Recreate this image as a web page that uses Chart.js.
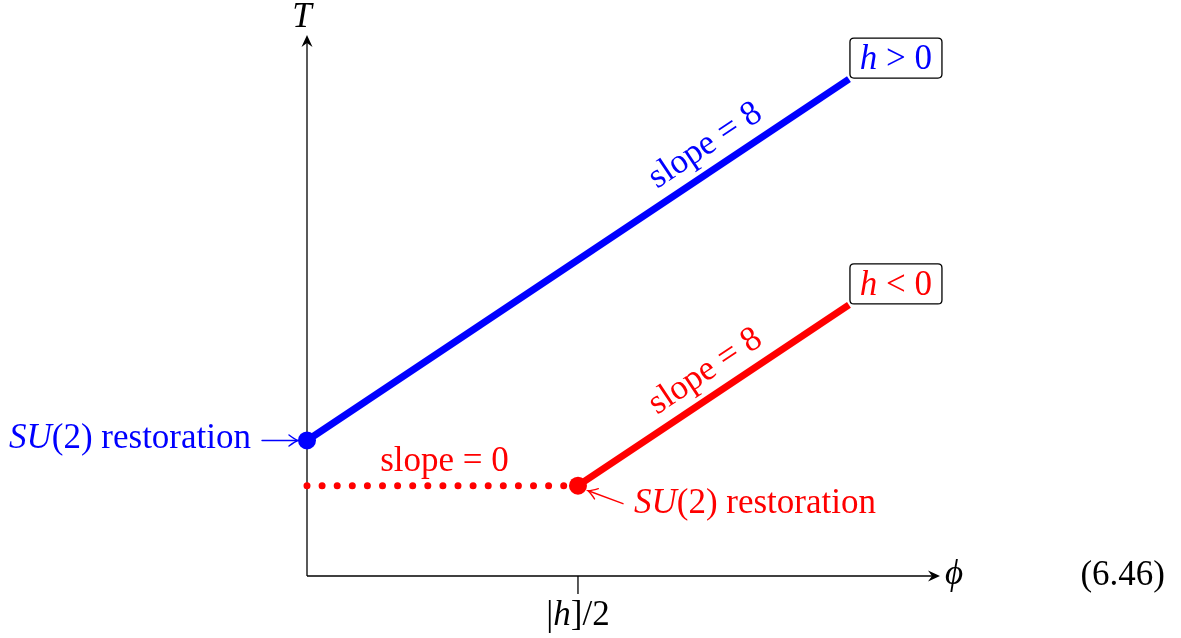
<!DOCTYPE html>
<html>
<head>
<meta charset="utf-8">
<script src="https://cdn.jsdelivr.net/npm/chart.js@4.4.1/dist/chart.umd.min.js"></script>
<style>
html,body{margin:0;padding:0;background:#fff;}
#wrap{width:1181px;height:638px;position:relative;}
</style>
</head>
<body>
<div id="wrap"><canvas id="c"></canvas></div>
<script>
// ---- data ----
const blueX = [0, 2];
const blueT = [0.5, 1.8333];
const redX = [1, 2];
const redT = [0.3333, 1.0];
const flatX = [0, 1];
const flatT = [0.3333, 0.3333];
const xTickValues = [1];
const xTickLabels = ['|h]/2'];
const axisXMax = 2.336;
const axisYMax = 1.996;
const slopeLabelX = 1.52;
const BLUE = '#0000ff', RED = '#ff0000';
const FONT = '"Liberation Serif", "Times New Roman", serif';
const FS = 35;

function pts(xs, ys){ return xs.map((x,i)=>({x:x, y:ys[i]})); }

function runsWidth(ctx, runs, size){
  let w = 0;
  runs.forEach(r=>{ ctx.font = (r.it?'italic ':'') + size + 'px ' + FONT; w += ctx.measureText(r.t).width; });
  return w;
}
function drawRuns(ctx, runs, x, y, align, color, size){
  size = size || FS;
  const w = runsWidth(ctx, runs, size);
  let cx = align==='center' ? x - w/2 : (align==='right' ? x - w : x);
  ctx.fillStyle = color; ctx.textBaseline = 'alphabetic'; ctx.textAlign = 'left';
  runs.forEach(r=>{ ctx.font = (r.it?'italic ':'') + size + 'px ' + FONT; ctx.fillText(r.t, cx, y); cx += ctx.measureText(r.t).width; });
  return w;
}
function stealth(ctx, x, y, ang){
  ctx.save(); ctx.translate(x,y); ctx.rotate(ang);
  ctx.beginPath(); ctx.moveTo(0,0); ctx.lineTo(-12,-5.5); ctx.lineTo(-8,0); ctx.lineTo(-12,5.5); ctx.closePath();
  ctx.fillStyle = '#000'; ctx.fill(); ctx.restore();
}
function toArrow(ctx, x1, y1, x2, y2, color){
  const ang = Math.atan2(y2-y1, x2-x1);
  ctx.save(); ctx.strokeStyle = color; ctx.lineWidth = 1.4; ctx.lineCap='round';
  ctx.beginPath(); ctx.moveTo(x1,y1); ctx.lineTo(x2-1*Math.cos(ang), y2-1*Math.sin(ang)); ctx.stroke();
  ctx.translate(x2,y2); ctx.rotate(ang);
  ctx.beginPath(); ctx.moveTo(-9,-5.5); ctx.quadraticCurveTo(-3,-1,0,0); ctx.quadraticCurveTo(-3,1,-9,5.5); ctx.stroke();
  ctx.restore();
}
function roundRect(ctx, x, y, w, h, r){
  ctx.beginPath(); ctx.moveTo(x+r,y); ctx.lineTo(x+w-r,y); ctx.quadraticCurveTo(x+w,y,x+w,y+r);
  ctx.lineTo(x+w,y+h-r); ctx.quadraticCurveTo(x+w,y+h,x+w-r,y+h); ctx.lineTo(x+r,y+h);
  ctx.quadraticCurveTo(x,y+h,x,y+h-r); ctx.lineTo(x,y+r); ctx.quadraticCurveTo(x,y,x+r,y); ctx.closePath();
}

const axesPlugin = {
  id:'axesPlugin',
  beforeDatasetsDraw(chart){
    const ctx = chart.ctx, xs = chart.scales.x, ys = chart.scales.y;
    const x0 = xs.getPixelForValue(0), y0 = ys.getPixelForValue(0);
    const xe = xs.getPixelForValue(axisXMax), ye = ys.getPixelForValue(axisYMax);
    ctx.save(); ctx.strokeStyle = '#000'; ctx.lineWidth = 1.3;
    ctx.beginPath(); ctx.moveTo(x0, y0); ctx.lineTo(xe-6, y0); ctx.stroke();
    ctx.beginPath(); ctx.moveTo(x0, y0); ctx.lineTo(x0, ye+6); ctx.stroke();
    stealth(ctx, xe, y0, 0); stealth(ctx, x0, ye, -Math.PI/2);
    xTickValues.forEach((v,i)=>{
      const px = xs.getPixelForValue(v);
      ctx.beginPath(); ctx.moveTo(px, y0); ctx.lineTo(px, y0+18); ctx.stroke();
      const lab = xTickLabels[i];
      drawRuns(ctx, [{t:lab.slice(0,1)},{t:lab.slice(1,2),it:true},{t:lab.slice(2)}], px, y0+49, 'center', '#000');
    });
    drawRuns(ctx, [{t:'T', it:true}], x0-5, ye-8, 'center', '#000');
    drawRuns(ctx, [{t:'\u03D5', it:true}], xe+5, y0+8, 'left', '#000');
    drawRuns(ctx, [{t:'(6.46)'}], 1165, y0+9, 'right', '#000');
    ctx.restore();
  },
  afterDatasetsDraw(chart){
    const ctx = chart.ctx, xs = chart.scales.x, ys = chart.scales.y;
    // boxes at line ends
    [[blueX, blueT, BLUE, '>'], [redX, redT, RED, '<']].forEach(([X,Y,col,op])=>{
      const ex = xs.getPixelForValue(X[1]), ey = ys.getPixelForValue(Y[1]);
      const bx = ex+1, by = ey-41, bw = 92, bh = 40;
      ctx.save(); ctx.fillStyle='#fff'; roundRect(ctx,bx,by,bw,bh,4); ctx.fill();
      ctx.strokeStyle='#000'; ctx.lineWidth=1.3; ctx.stroke(); ctx.restore();
      drawRuns(ctx, [{t:'h',it:true},{t:' '+op+' 0'}], bx+bw/2, by+31, 'center', col);
    });
    // slope labels along lines
    [[blueX, blueT, BLUE, 'slope = 8'], [redX, redT, RED, 'slope = 8']].forEach(([X,Y,col,txt])=>{
      const p1x = xs.getPixelForValue(X[0]), p1y = ys.getPixelForValue(Y[0]);
      const p2x = xs.getPixelForValue(X[1]), p2y = ys.getPixelForValue(Y[1]);
      const ang = Math.atan2(p2y-p1y, p2x-p1x);
      const cx = xs.getPixelForValue(slopeLabelX);
      const cy = p1y + (cx-p1x)*(p2y-p1y)/(p2x-p1x);
      ctx.save(); ctx.translate(cx, cy); ctx.rotate(ang);
      drawRuns(ctx, [{t:txt}], 0, -15, 'center', col);
      ctx.restore();
    });
    // flat slope label
    const fx = (xs.getPixelForValue(flatX[0]) + xs.getPixelForValue(flatX[1]))/2;
    const fy = ys.getPixelForValue(flatT[0]);
    drawRuns(ctx, [{t:'slope = 0'}], fx+2, fy-15, 'center', RED);
    // SU(2) restoration labels
    const bx0 = xs.getPixelForValue(blueX[0]), by0 = ys.getPixelForValue(blueT[0]);
    drawRuns(ctx, [{t:'SU',it:true},{t:'(2) restoration'}], bx0-56, by0+8, 'right', BLUE);
    toArrow(ctx, bx0-45, by0, bx0-9, by0, BLUE);
    const rx0 = xs.getPixelForValue(redX[0]), ry0 = ys.getPixelForValue(redT[0]);
    toArrow(ctx, rx0+45, ry0+18, rx0+10, ry0+5, RED);
    drawRuns(ctx, [{t:'SU',it:true},{t:'(2) restoration'}], rx0+56, ry0+27, 'left', RED);
  }
};

new Chart(document.getElementById('c'), {
  type: 'scatter',
  data: {
    datasets: [
      {data: pts(flatX, flatT), showLine:true, borderColor:RED, borderWidth:7, borderDash:[0,15.1], borderCapStyle:'round', pointRadius:0, clip:false},
      {data: pts(redX, redT), showLine:true, borderColor:RED, borderWidth:7, pointRadius:[9,0], pointBackgroundColor:RED, pointBorderWidth:0, clip:false},
      {data: pts(blueX, blueT), showLine:true, borderColor:BLUE, borderWidth:7, pointRadius:[9,0], pointBackgroundColor:BLUE, pointBorderWidth:0, clip:false}
    ]
  },
  options: {
    responsive:true, maintainAspectRatio:false, animation:false,
    layout:{padding:{left:307, right:241, top:35, bottom:62}},
    scales:{
      x:{type:'linear', min:0, max:axisXMax, display:false},
      y:{type:'linear', min:0, max:axisYMax, display:false}
    },
    plugins:{legend:{display:false}, tooltip:{enabled:false}}
  },
  plugins:[axesPlugin]
});
</script>
</body>
</html>
